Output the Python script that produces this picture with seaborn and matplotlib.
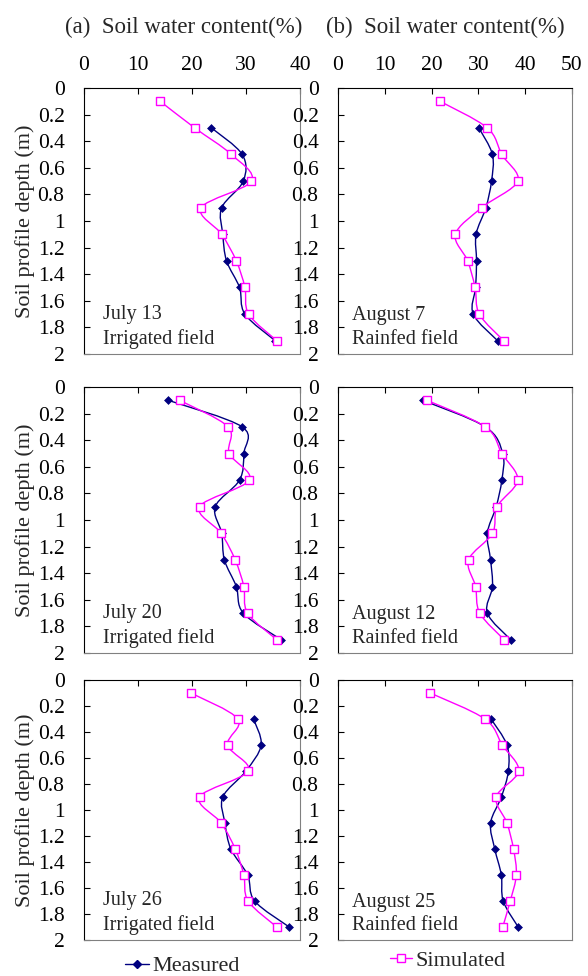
import numpy as np
import pandas as pd
import matplotlib
matplotlib.use("Agg")
import matplotlib.pyplot as plt
import seaborn as sns
from matplotlib.path import Path
from matplotlib.patches import PathPatch
from matplotlib.lines import Line2D

# depths (m) of the sampling points
depth = [0.1, 0.3, 0.5, 0.7, 0.9, 1.1, 1.3, 1.5, 1.7, 1.9]

# soil water content (%); None = not measured
jul13_meas = [None, 23.6, 29.3, 29.5, 25.5, 25.7, 26.4, 28.8, 29.8, 35.4]
jul13_sim = [14.1, 20.5, 27.3, 31.0, 21.7, 25.5, 28.2, 29.8, 30.5, 35.7]
aug07_meas = [None, 30.1, 33.0, 32.8, 31.6, 29.5, 29.6, 29.4, 28.9, 34.1]
aug07_sim = [21.8, 31.9, 35.0, 38.4, 30.7, 25.1, 27.7, 29.3, 30.2, 35.4]
jul20_meas = [15.6, 29.3, 29.6, 28.8, 24.3, 25.5, 26.0, 28.2, 29.5, 36.5]
jul20_sim = [17.7, 26.7, 26.9, 30.6, 21.4, 25.4, 28.0, 29.6, 30.3, 35.7]
aug12_meas = [18.1, 31.5, 35.2, 35.0, 33.8, 31.9, 32.6, 33.0, 31.9, 36.9]
aug12_sim = [19.0, 31.5, 35.0, 38.4, 34.0, 33.0, 27.9, 29.4, 30.3, 35.5]
jul26_meas = [None, 31.4, 32.8, 30.0, 25.7, 26.1, 27.2, 30.3, 31.6, 38.0]
jul26_sim = [19.8, 28.5, 26.6, 30.4, 21.4, 25.4, 28.0, 29.6, 30.4, 35.7]
aug25_meas = [None, 32.7, 36.1, 36.4, 34.9, 32.6, 33.5, 34.9, 35.3, 38.5]
aug25_sim = [19.7, 31.4, 35.1, 38.6, 33.8, 36.1, 37.5, 38.1, 36.8, 35.2]

panels = [
    ("July 13\nIrrigated field", jul13_meas, jul13_sim, 40),
    ("August 7\nRainfed field", aug07_meas, aug07_sim, 50),
    ("July 20\nIrrigated field", jul20_meas, jul20_sim, 40),
    ("August 12\nRainfed field", aug12_meas, aug12_sim, 50),
    ("July 26\nIrrigated field", jul26_meas, jul26_sim, 40),
    ("August 25\nRainfed field", aug25_meas, aug25_sim, 50),
]

NAVY = "#000080"
MAGENTA = "#FF00FF"

sns.set_theme(style="ticks")
plt.rcParams["font.family"] = ["Liberation Serif", "DejaVu Serif"]


# Excel-style smoothed line (Catmull-Rom as cubic Bezier) through the points
def smooth_line(ax, x, y, color):
    pts = np.column_stack([x, y])
    n = len(pts)
    verts = [pts[0]]
    codes = [Path.MOVETO]
    for i in range(n - 1):
        p0 = pts[max(i - 1, 0)]
        p1 = pts[i]
        p2 = pts[i + 1]
        p3 = pts[min(i + 2, n - 1)]
        verts += [p1 + (p2 - p0) / 6.0, p2 - (p3 - p1) / 6.0, p2]
        codes += [Path.CURVE4] * 3
    patch = PathPatch(Path(verts, codes), facecolor="none", edgecolor=color,
                      lw=1.0, zorder=2)
    ax.add_patch(patch)


W, H = 588, 976
cols = [(84, 300), (338, 572)]
rows = [(88, 354), (387, 653), (680, 940)]

fig = plt.figure(figsize=(W / 100, H / 100), dpi=100)

for k, (label, meas, sim, xmax) in enumerate(panels):
    r, c = divmod(k, 2)
    x0, x1 = cols[c]
    y0, y1 = rows[r]
    ax = fig.add_axes([x0 / W, 1 - y1 / H, (x1 - x0) / W, (y1 - y0) / H])

    df = pd.DataFrame({"depth": depth, "meas": meas, "sim": sim})
    dm = df.dropna(subset=["meas"])

    smooth_line(ax, dm["meas"].values, dm["depth"].values, NAVY)
    smooth_line(ax, df["sim"].values, df["depth"].values, MAGENTA)
    sns.scatterplot(data=dm, x="meas", y="depth", ax=ax, marker="D", s=16,
                    color=NAVY, edgecolor=NAVY, linewidth=0.5, zorder=3)
    sns.scatterplot(data=df, x="sim", y="depth", ax=ax, marker="s", s=34,
                    facecolor="white", edgecolor=MAGENTA, linewidth=1.0,
                    zorder=4)

    ax.set_xlim(0, xmax)
    ax.set_ylim(2, 0)
    ax.set_xticks(np.arange(0, xmax + 1, 10))
    ax.set_yticks(np.arange(0, 2.01, 0.2))
    ax.set_yticklabels(["0", "0.2", "0.4", "0.6", "0.8", "1", "1.2", "1.4",
                        "1.6", "1.8", "2"])
    ax.xaxis.tick_top()
    ax.tick_params(axis="both", direction="in", length=4, width=0.8,
                   labelsize=15.5, colors="black")
    ax.tick_params(axis="y", pad=14)
    ax.tick_params(axis="x", pad=9)
    if r > 0:
        ax.set_xticklabels([])
    ax.set_xlabel("")
    ax.set_ylabel("")
    for s in ax.spines.values():
        s.set_linewidth(0.8)
        s.set_color("#808080")
    ax.spines["left"].set_color("black")
    ax.spines["top"].set_color("black")

    if c == 0:
        ax.set_ylabel("Soil profile depth (m)", fontsize=16, labelpad=2)
    ax.text(0.088 if c == 0 else 0.06, 0.02, label, transform=ax.transAxes,
            fontsize=14.5, ha="left", va="bottom", linespacing=1.3)

fig.text(184 / W, 1 - 27 / H, "(a)  Soil water content(%)", fontsize=16.5,
         ha="center", va="center")
fig.text(445 / W, 1 - 27 / H, "(b)  Soil water content(%)", fontsize=16.5,
         ha="center", va="center")

h_meas = Line2D([], [], color=NAVY, lw=1.0, marker="D", markersize=4,
                markerfacecolor=NAVY)
h_sim = Line2D([], [], color=MAGENTA, lw=1.0, marker="s", markersize=6,
               markerfacecolor="white", markeredgecolor=MAGENTA)
fig.legend([h_meas], ["Measured"], loc="center left",
           bbox_to_anchor=(125 / W, 1 - 966 / H), frameon=False,
           fontsize=16, handlelength=1.1, handletextpad=0.15,
           borderpad=0, borderaxespad=0)
fig.legend([h_sim], ["Simulated"], loc="center left",
           bbox_to_anchor=(390 / W, 1 - 961 / H), frameon=False,
           fontsize=16, handlelength=1.0, handletextpad=0.15,
           borderpad=0, borderaxespad=0)

fig.savefig("out.png", dpi=100, facecolor="white")
